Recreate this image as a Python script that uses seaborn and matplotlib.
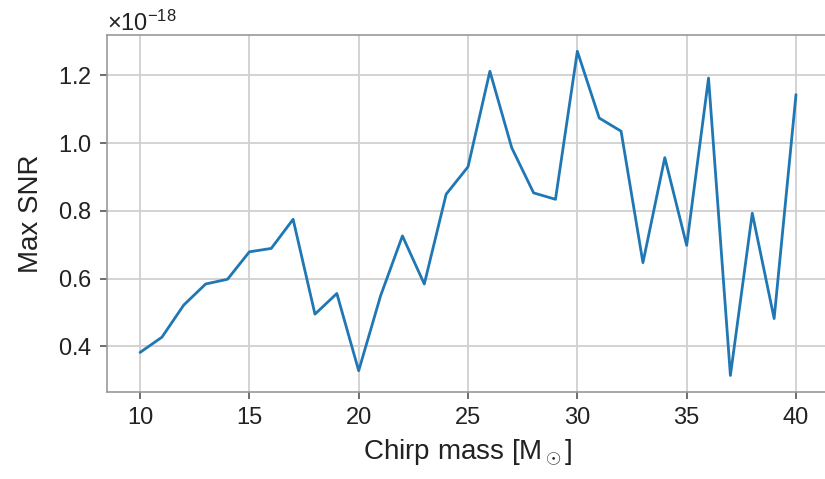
import numpy as np
import pandas as pd
import matplotlib
matplotlib.use("Agg")
import matplotlib.pyplot as plt
import seaborn as sns
from matplotlib.ticker import ScalarFormatter, MultipleLocator

chirp_mass = list(range(10, 41))
max_snr_e18 = [0.382, 0.427, 0.522, 0.584, 0.598, 0.679, 0.689, 0.775, 0.495, 0.556,
               0.328, 0.549, 0.726, 0.584, 0.849, 0.930, 1.212, 0.986, 0.853, 0.834,
               1.271, 1.074, 1.035, 0.647, 0.957, 0.698, 1.192, 0.314, 0.793, 0.482,
               1.143]

df = pd.DataFrame({"mass": chirp_mass, "snr": np.array(max_snr_e18) * 1e-18})

sns.set_theme(style="whitegrid")
plt.rcParams["font.family"] = ["Liberation Sans", "DejaVu Sans"]
plt.rcParams["mathtext.fontset"] = "custom"
plt.rcParams["mathtext.rm"] = "Liberation Sans"
plt.rcParams["mathtext.it"] = "Liberation Sans:italic"
plt.rcParams["mathtext.sf"] = "Liberation Sans"

fig = plt.figure(figsize=(8.25, 4.79), dpi=100)
ax = fig.add_axes([0.130, 0.1822, 0.8746, 0.7447])

sns.lineplot(data=df, x="mass", y="snr", ax=ax, color="#1f77b4", linewidth=2.0)

ax.set_xlim(8.5, 41.5)
ax.set_ylim(0.266e-18, 1.319e-18)
ax.xaxis.set_major_locator(MultipleLocator(5))
ax.yaxis.set_major_locator(MultipleLocator(0.2e-18))
fmt = ScalarFormatter(useMathText=True)
ax.yaxis.set_major_formatter(fmt)

ax.grid(True, color="#d0d0d0", linewidth=1.3)
for s in ax.spines.values():
    s.set_color("#999999")
    s.set_linewidth(1.2)
ax.spines["right"].set_visible(False)
ax.tick_params(axis="both", which="major", direction="out", length=5, width=1.2,
               color="#555555", labelsize=17, labelcolor="#222222", pad=6,
               bottom=True, left=True)
ax.yaxis.get_offset_text().set_fontsize(17)
ax.yaxis.get_offset_text().set_color("#222222")

ax.set_xlabel(r"Chirp mass [M$_\odot$]", fontsize=20, color="#222222", labelpad=6)
ax.set_ylabel("Max SNR", fontsize=20, color="#222222", labelpad=10)

fig.savefig("out.png", dpi=100)
